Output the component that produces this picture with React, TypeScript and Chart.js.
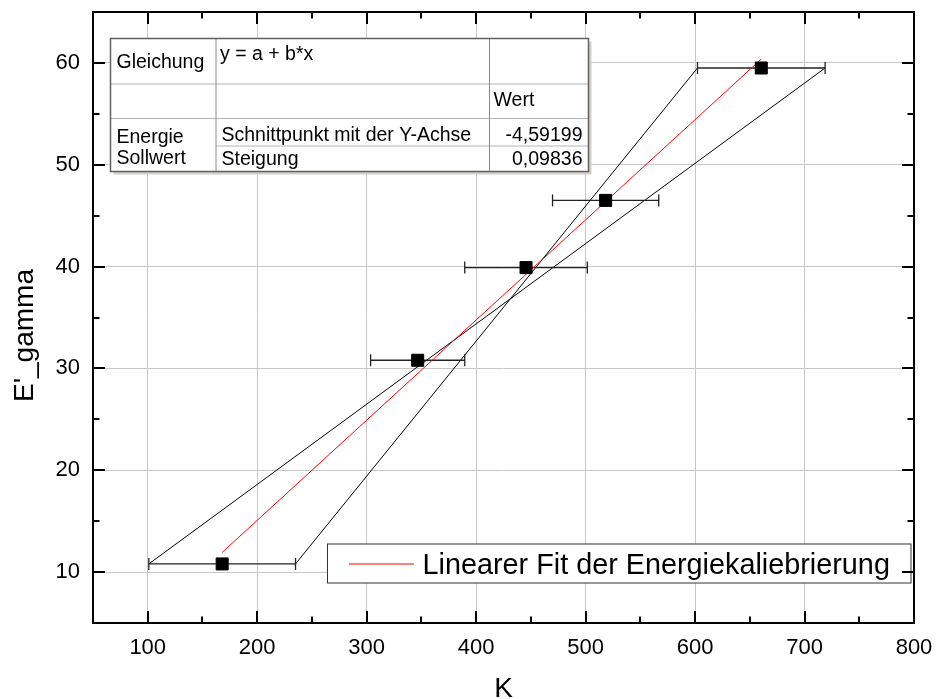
import React, { useEffect, useRef } from 'react';
import { Chart, registerables } from 'chart.js';

Chart.register(...registerables);

// ---- data ----
const kValues = [168, 346.6, 445.6, 518.3, 660.5];
const eValues = [10.8, 30.8, 39.9, 46.5, 59.5];
const kErrors = [67, 43, 56, 48.5, 58.3];
const fitIntercept = -4.59199;
const fitSlope = 0.09836;
const xTicks = [100, 200, 300, 400, 500, 600, 700, 800];
const yTicks = [10, 20, 30, 40, 50, 60];
const xRange = [50, 800];
const yRange = [5, 65];
const xTitle = 'K';
const yTitle = "E'_gamma";
const legendLabel = 'Linearer Fit der Energiekaliebrierung';
const tableEquationLabel = 'Gleichung';
const tableEquation = 'y = a + b*x';
const tableValueHeader = 'Wert';
const tableGroupLabel = ['Energie', 'Sollwert'];
const tableParamNames = ['Schnittpunkt mit der Y-Achse', 'Steigung'];
const tableParamValues = [fitIntercept, fitSlope];

const FONT = "'Liberation Sans', Arial, Helvetica, sans-serif";

const fmt = (v: number) => v.toFixed(5).replace('.', ',');

const overlayPlugin = {
  id: 'overlay',
  afterDatasetsDraw(chart: any) {
    const { ctx, chartArea: a, scales } = chart;
    const xs = scales.x;
    const ys = scales.y;
    ctx.save();

    // ---- table ----
    const L = a.left;
    const T = a.top;
    const tl = L + 17.5;
    const tt = T + 26.5;
    const c1 = L + 123;
    const c2 = L + 396.5;
    const tr = L + 495.5;
    const r1 = T + 72;
    const r2 = T + 106.5;
    const r3 = T + 134;
    const tb = T + 159.5;
    ctx.fillStyle = '#d4d0c8';
    ctx.fillRect(tl + 3, tt + 3, tr - tl, tb - tt);
    ctx.fillStyle = '#ffffff';
    ctx.fillRect(tl, tt, tr - tl, tb - tt);
    ctx.strokeStyle = '#b4b4b4';
    ctx.lineWidth = 1;
    ctx.beginPath();
    ctx.moveTo(tl, r1); ctx.lineTo(tr, r1);
    ctx.moveTo(tl, r2); ctx.lineTo(tr, r2);
    ctx.moveTo(c1, r3); ctx.lineTo(tr, r3);
    ctx.stroke();
    ctx.strokeStyle = '#8a8a8a';
    ctx.beginPath();
    ctx.moveTo(c1, tt); ctx.lineTo(c1, tb);
    ctx.moveTo(c2, tt); ctx.lineTo(c2, tb);
    ctx.stroke();
    ctx.strokeStyle = '#606060';
    ctx.lineWidth = 1.5;
    ctx.strokeRect(tl, tt, tr - tl, tb - tt);

    ctx.fillStyle = '#000';
    ctx.font = `19.5px ${FONT}`;
    ctx.textBaseline = 'alphabetic';
    ctx.textAlign = 'left';
    ctx.fillText(tableEquationLabel, tl + 6, T + 56.3);
    ctx.fillText(tableEquation, c1 + 4, T + 48);
    ctx.fillText(tableValueHeader, c2 + 4, T + 94);
    ctx.fillText(tableGroupLabel[0], tl + 6, T + 130.7);
    ctx.fillText(tableGroupLabel[1], tl + 6, T + 152.3);
    ctx.fillText(tableParamNames[0], c1 + 5.5, T + 128.7);
    ctx.fillText(tableParamNames[1], c1 + 5.5, T + 153);
    ctx.textAlign = 'right';
    ctx.fillText(fmt(tableParamValues[0]), tr - 6, T + 128.7);
    ctx.fillText(fmt(tableParamValues[1]), tr - 6, T + 153);

    // ---- legend ----
    const B = a.bottom;
    const lr = a.right - 3;
    const ll = L + 234.5;
    const lt = B - 79;
    const lb = B - 40;
    ctx.fillStyle = '#fff';
    ctx.fillRect(ll, lt, lr - ll, lb - lt);
    ctx.strokeStyle = '#333';
    ctx.lineWidth = 1;
    ctx.strokeRect(ll, lt, lr - ll, lb - lt);
    ctx.strokeStyle = '#ff0000';
    ctx.beginPath();
    ctx.moveTo(L + 256, B - 59);
    ctx.lineTo(L + 321, B - 59);
    ctx.stroke();
    ctx.fillStyle = '#000';
    ctx.textAlign = 'left';
    ctx.font = `28.8px ${FONT}`;
    ctx.fillText(legendLabel, L + 329.5, B - 49.5);

    // ---- frame and inward ticks ----
    ctx.strokeStyle = '#000';
    ctx.lineWidth = 2;
    ctx.strokeRect(a.left, a.top, a.right - a.left, a.bottom - a.top);
    const major = 12;
    const minor = 6.5;
    const xMinor: number[] = [];
    for (let i = 0; i < xTicks.length - 1; i++) xMinor.push((xTicks[i] + xTicks[i + 1]) / 2);
    const yMinor: number[] = [];
    for (let i = 0; i < yTicks.length - 1; i++) yMinor.push((yTicks[i] + yTicks[i + 1]) / 2);
    yMinor.push(yTicks[0] - (yTicks[1] - yTicks[0]) / 2);
    ctx.beginPath();
    const xt = (v: number, len: number) => {
      const p = Math.round(xs.getPixelForValue(v));
      ctx.moveTo(p, a.bottom); ctx.lineTo(p, a.bottom - len);
      ctx.moveTo(p, a.top); ctx.lineTo(p, a.top + len);
    };
    const yt = (v: number, len: number) => {
      const p = Math.round(ys.getPixelForValue(v));
      ctx.moveTo(a.left, p); ctx.lineTo(a.left + len, p);
      ctx.moveTo(a.right, p); ctx.lineTo(a.right - len, p);
    };
    xTicks.forEach((v) => xt(v, major));
    xMinor.forEach((v) => xt(v, minor));
    yTicks.forEach((v) => yt(v, major));
    yMinor.forEach((v) => yt(v, minor));
    ctx.stroke();

    // ---- y title ----
    ctx.translate(33.3, (a.top + a.bottom) / 2 + 18);
    ctx.rotate(-Math.PI / 2);
    ctx.textAlign = 'center';
    ctx.textBaseline = 'alphabetic';
    ctx.font = `28px ${FONT}`;
    ctx.fillText(yTitle, 0, 0);
    ctx.restore();
  },
};

const noPad = (s: any) => {
  s.paddingTop = 0;
  s.paddingBottom = 0;
  s.paddingLeft = 0;
  s.paddingRight = 0;
};

export default function App() {
  const ref = useRef<HTMLCanvasElement | null>(null);
  useEffect(() => {
    document.body.style.margin = '0';
    const canvas = ref.current;
    if (!canvas) return;
    const xMin = Math.min(...kValues);
    const xMax = Math.max(...kValues);
    const points = kValues.map((k, i) => ({ x: k, y: eValues[i] }));
    const errorSets = kValues.map((k, i) => ({
      label: 'err' + i,
      data: [
        { x: k - kErrors[i], y: eValues[i] },
        { x: k + kErrors[i], y: eValues[i] },
      ],
      showLine: true,
      borderColor: '#222',
      borderWidth: 1.3,
      pointStyle: 'line',
      pointRotation: 90,
      pointRadius: 6,
      pointBorderColor: '#222',
      pointBorderWidth: 1.3,
      pointBackgroundColor: '#222',
    }));
    const last = kValues.length - 1;
    // lines joining opposite ends of the first and last error bars
    const envelope = [-1, 1].map((s) => ({
      label: 'env' + s,
      data: [
        { x: kValues[0] + s * kErrors[0], y: eValues[0] },
        { x: kValues[last] - s * kErrors[last], y: eValues[last] },
      ],
      showLine: true,
      borderColor: '#000',
      borderWidth: 1,
      pointRadius: 0,
    }));
    const chart = new Chart(canvas, {
      type: 'scatter',
      data: {
        datasets: [
          {
            label: 'Messwerte',
            data: points,
            pointStyle: 'rect',
            pointRadius: 8.5,
            pointBackgroundColor: '#000',
            pointBorderColor: '#000',
            pointBorderWidth: 1,
            showLine: false,
          },
          {
            label: legendLabel,
            data: [
              { x: xMin, y: fitIntercept + fitSlope * xMin },
              { x: xMax, y: fitIntercept + fitSlope * xMax },
            ],
            showLine: true,
            borderColor: '#ff0000',
            borderWidth: 1,
            pointRadius: 0,
          },
          ...errorSets,
          ...envelope,
        ] as any,
      },
      options: {
        responsive: false,
        animation: false,
        devicePixelRatio: 1,
        layout: { padding: { top: 12, right: 22, left: 0, bottom: 0 } },
        plugins: { legend: { display: false }, tooltip: { enabled: false } },
        scales: {
          x: {
            type: 'linear',
            min: xRange[0],
            max: xRange[1],
            afterBuildTicks: (s: any) => {
              s.ticks = xTicks.map((v) => ({ value: v }));
            },
            afterFit: (s: any) => {
              s.height = 76;
              noPad(s);
            },
            grid: { color: '#c8c8c8', lineWidth: 1, drawTicks: false },
            border: { display: false },
            ticks: {
              font: { family: FONT, size: 22 },
              color: '#000',
              padding: 12,
              maxRotation: 0,
              autoSkip: false,
            },
            title: {
              display: true,
              text: xTitle,
              color: '#000',
              font: { family: FONT, size: 28, lineHeight: 0.7 },
              padding: 0,
            },
          },
          y: {
            type: 'linear',
            min: yRange[0],
            max: yRange[1],
            afterBuildTicks: (s: any) => {
              s.ticks = yTicks.map((v) => ({ value: v }));
            },
            afterFit: (s: any) => {
              s.width = 93;
              noPad(s);
            },
            grid: { color: '#c8c8c8', lineWidth: 1, drawTicks: false },
            border: { display: false },
            ticks: {
              font: { family: FONT, size: 22 },
              color: '#000',
              padding: 13,
              autoSkip: false,
            },
          },
        },
      } as any,
      plugins: [overlayPlugin],
    });
    return () => chart.destroy();
  }, []);
  return (
    <canvas
      ref={ref}
      width={936}
      height={699}
      style={{ display: 'block', width: 936, height: 699 }}
    />
  );
}
